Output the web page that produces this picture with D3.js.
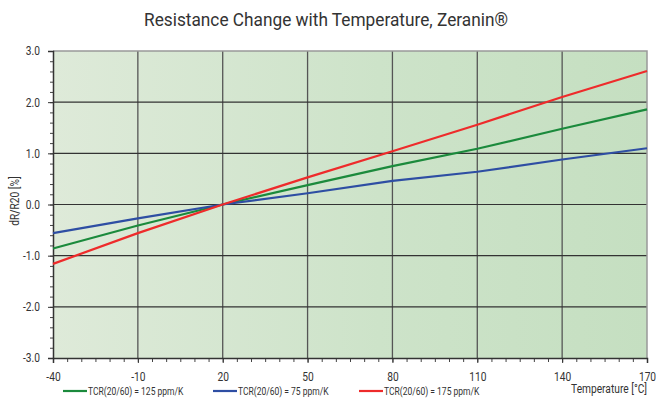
<!DOCTYPE html>
<html>
<head>
<meta charset="utf-8">
<script src="https://cdn.jsdelivr.net/npm/d3@7"></script>
<style>
  body { margin: 0; background: #fff; }
  text { font-family: Roboto, "Liberation Sans", sans-serif; fill: #333; }
</style>
</head>
<body>
<div id="chart"></div>
<script>
// data
var temps = [-40, -10, 20, 50, 80, 110, 140, 170];
var tcr125 = [-0.86, -0.41, 0, 0.38, 0.75, 1.09, 1.48, 1.86];
var tcr75 = [-0.56, -0.27, 0, 0.22, 0.46, 0.64, 0.88, 1.10];
var tcr175 = [-1.16, -0.56, 0, 0.53, 1.04, 1.56, 2.10, 2.61];
var seriesNames = ["TCR(20/60) = 125 ppm/K", "TCR(20/60) = 75 ppm/K", "TCR(20/60) = 175 ppm/K"];
var seriesColors = ["#1b8a3c", "#2e4ea3", "#ee2b2b"];
var xTicks = [-40, -10, 20, 50, 80, 110, 140, 170];
var yTicks = [-3, -2, -1, 0, 1, 2, 3];

var W = 656, H = 401;
var margin = {top: 51, right: 9, bottom: 43, left: 53};
var width = W - margin.left - margin.right,
    height = H - margin.top - margin.bottom;

// squeeze text to look like the condensed face of the original
function condense(sel, f) {
  sel.each(function(){
    var len = this.getComputedTextLength();
    d3.select(this).attr("textLength", len * f).attr("lengthAdjust", "spacingAndGlyphs");
  });
}
var hyphen = v => d3.format(".1f")(v).replace("\u2212", "-");

var svg = d3.select("#chart").append("svg")
    .attr("width", W)
    .attr("height", H);

svg.append("text")
  .attr("x", 326)
  .attr("y", 26)
  .attr("text-anchor", "middle")
  .attr("font-size", "19px")
  .text("Resistance Change with Temperature, Zeranin\u00AE")
  .attr("textLength", 364)
  .attr("lengthAdjust", "spacingAndGlyphs");

var defs = svg.append("defs");
var grad = defs.append("linearGradient")
  .attr("id", "bg")
  .attr("x1", "0%").attr("x2", "100%")
  .attr("y1", "0%").attr("y2", "0%");
grad.append("stop").attr("offset", "0%").attr("stop-color", "#deead9");
grad.append("stop").attr("offset", "55%").attr("stop-color", "#cde3c9");
grad.append("stop").attr("offset", "100%").attr("stop-color", "#c5dfc1");

var g = svg.append("g")
  .attr("transform", "translate(" + margin.left + "," + margin.top + ")");

var x = d3.scaleLinear().domain([-40, 170]).range([0, width]);
var y = d3.scaleLinear().domain([-3, 3]).range([height, 0]);

g.append("rect")
  .attr("width", width)
  .attr("height", height)
  .attr("fill", "url(#bg)");

// grid
g.selectAll(".vgrid")
  .data(xTicks.slice(1, -1))
  .enter().append("line")
  .attr("x1", d => x(d)).attr("x2", d => x(d))
  .attr("y1", 0).attr("y2", height)
  .attr("stroke", "#555")
  .attr("stroke-width", 1.3);

g.selectAll(".hgrid")
  .data(yTicks.slice(1, -1))
  .enter().append("line")
  .attr("x1", 0).attr("x2", width)
  .attr("y1", d => y(d)).attr("y2", d => y(d))
  .attr("stroke", "#333")
  .attr("stroke-width", 1.2);

// top and right border
g.append("path")
  .attr("d", "M0,0H" + width + "V" + height)
  .attr("fill", "none")
  .attr("stroke", "#999")
  .attr("stroke-width", 1.5);

// minor ticks
g.append("g")
  .attr("transform", "translate(0," + height + ")")
  .call(d3.axisBottom(x).tickValues(d3.range(-40, 171, 5)).tickSize(4).tickFormat(""))
  .call(s => s.select(".domain").remove())
  .selectAll("line").attr("stroke", "#444");

g.append("g")
  .call(d3.axisLeft(y).tickValues(d3.range(-3, 3.01, 0.2)).tickSize(3).tickFormat(""))
  .call(s => s.select(".domain").remove())
  .selectAll("line").attr("stroke", "#444");

// major axes
var xAxis = g.append("g")
  .attr("transform", "translate(0," + height + ")")
  .call(d3.axisBottom(x).tickValues(xTicks).tickSize(5).tickPadding(9).tickFormat(d => String(d)));
xAxis.select(".domain").attr("stroke", "#333").attr("stroke-width", 1.5);
xAxis.selectAll("line").attr("stroke", "#333");
xAxis.selectAll("text").attr("font-size", "12px").style("font-family", null);

var yAxis = g.append("g")
  .call(d3.axisLeft(y).tickValues(yTicks).tickSize(5).tickPadding(8).tickFormat(hyphen));
yAxis.select(".domain").attr("stroke", "#333").attr("stroke-width", 1.5);
yAxis.selectAll("line").attr("stroke", "#333");
yAxis.selectAll("text").attr("font-size", "12px").style("font-family", null);

svg.selectAll(".tick text").attr("fill", "#333").call(condense, 0.85);

// axis titles
svg.append("text")
  .attr("text-anchor", "end")
  .attr("x", 647)
  .attr("y", 393)
  .attr("font-size", "12px")
  .text("Temperature [\u00B0C]")
  .call(condense, 0.85);

svg.append("text")
  .attr("text-anchor", "middle")
  .attr("transform", "translate(19,201)rotate(-90)")
  .attr("font-size", "12px")
  .text("dR/R20 [%]")
  .call(condense, 0.85);

// lines
var allSeries = [tcr125, tcr75, tcr175];
var line = d3.line()
  .x((d, i) => x(temps[i]))
  .y(d => y(d));

g.selectAll(".series")
  .data(allSeries)
  .enter().append("path")
  .attr("d", d => line(d))
  .attr("fill", "none")
  .attr("stroke", (d, i) => seriesColors[i])
  .attr("stroke-width", 2.2);

// legend
var legendX = [63, 213, 359];
var legend = svg.selectAll(".legend")
  .data(seriesNames)
  .enter().append("g")
  .attr("transform", (d, i) => "translate(" + legendX[i] + ",391)");
legend.append("line")
  .attr("x1", 0).attr("x2", 24)
  .attr("stroke", (d, i) => seriesColors[i])
  .attr("stroke-width", 2.2);
legend.append("text")
  .attr("x", 25)
  .attr("y", 3.5)
  .attr("font-size", "10px")
  .text(d => d)
  .call(condense, 0.85);
</script>
</body>
</html>
